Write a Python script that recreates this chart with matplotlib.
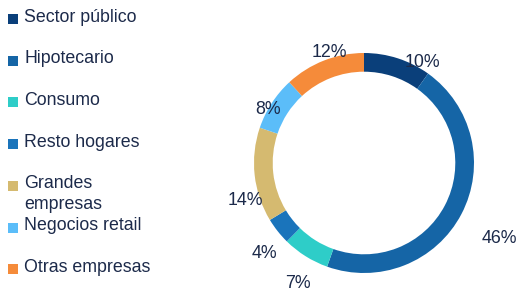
import matplotlib.pyplot as plt
import numpy as np

categorias = ['Sector público', 'Hipotecario', 'Consumo', 'Resto hogares',
              'Grandes\nempresas', 'Negocios retail', 'Otras empresas']
valores = [10, 46, 7, 4, 14, 8, 12]
colores = ['#0a3f7a', '#1565a6', '#2ecdc8', '#1a74bb', '#d5ba70', '#5bbdf9', '#f58b3a']

texto = '#1c2a4a'
plt.rcParams['font.family'] = ['Liberation Sans', 'DejaVu Sans']

W, H = 519, 291
fig = plt.figure(figsize=(W / 100, H / 100), dpi=100)

# legend drawn in a pixel-coordinate overlay
lg = fig.add_axes([0, 0, 1, 1])
lg.set_xlim(0, W)
lg.set_ylim(H, 0)
lg.axis('off')
y0, paso = 17, 41.7
for i, (cat, col) in enumerate(zip(categorias, colores)):
    y = y0 + i * paso
    lg.scatter([13], [y + 2], marker='s', s=60, color=col, linewidths=0)
    if '\n' in cat:
        lg.text(24, y - 9, cat, va='top', ha='left', fontsize=12.8, color=texto,
                linespacing=1.3)
    else:
        lg.text(24, y, cat, va='center', ha='left', fontsize=12.8, color=texto)

# donut
cx, cy, R = 364, 163, 110
ax = fig.add_axes([(cx - R) / W, (H - cy - R) / H, 2 * R / W, 2 * R / H])
wedges, _ = ax.pie(valores, colors=colores, startangle=90, counterclock=False,
                   radius=1, wedgeprops=dict(width=0.17, linewidth=0))
ax.set_xlim(-1, 1)
ax.set_ylim(-1, 1)
ax.axis('off')

# label placement tweaks (angle offset in degrees, radial distance)
ajuste_ang = [-12.5, -1.3, 3.3, 4, 11.2, 4, -3.9]
ajuste_r = [1.06, 1.41, 1.25, 1.22, 1.13, 1.0, 1.05]
for w, v, da, r in zip(wedges, valores, ajuste_ang, ajuste_r):
    ang = np.deg2rad((w.theta1 + w.theta2) / 2 + da)
    ax.text(r * np.cos(ang), r * np.sin(ang), f'{v}%', ha='center', va='center',
            fontsize=12.8, color=texto)

fig.savefig('out.png', dpi=100)
